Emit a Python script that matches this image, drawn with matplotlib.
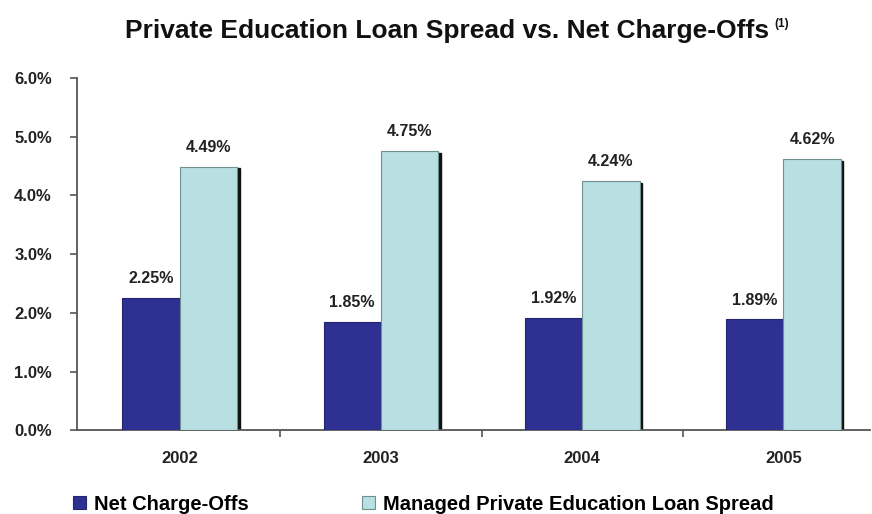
import numpy as np
import matplotlib.pyplot as plt
from matplotlib.patches import Rectangle

plt.rcParams['font.family'] = ['Liberation Sans', 'DejaVu Sans']
plt.rcParams['font.weight'] = 'bold'

years = ['2002', '2003', '2004', '2005']
net_charge_offs = [2.25, 1.85, 1.92, 1.89]
loan_spread = [4.49, 4.75, 4.24, 4.62]

dark = '#2E3192'
light = '#B8E0E2'

fig = plt.figure(figsize=(8.72, 5.14), dpi=100)
ax = fig.add_axes([0.0883, 0.1625, 0.9094, 0.686])

x = np.arange(len(years))
w = 0.285

ax.bar(x - w / 2, net_charge_offs, w, color=dark, edgecolor='#22246e', linewidth=0.8,
       label='Net Charge-Offs', zorder=3)
# dark shadow strip along the right side of the spread bars
for xi, v in zip(x, loan_spread):
    ax.add_patch(Rectangle((xi + w - 0.004, 0), 0.017, v - 0.03, color='#111111', zorder=2))
ax.bar(x + w / 2, loan_spread, w, color=light, edgecolor='#6f8f90', linewidth=0.8,
       label='Managed Private Education Loan Spread', zorder=3)

for xi, v in zip(x, net_charge_offs):
    ax.text(xi - w / 2, v + 0.33, f'{v:.2f}%', ha='center', va='center', fontsize=11.5,
            fontweight='bold', color='#222222')
for xi, v in zip(x, loan_spread):
    ax.text(xi + w / 2, v + 0.33, f'{v:.2f}%', ha='center', va='center', fontsize=11.5,
            fontweight='bold', color='#222222')

ax.set_xlim(-0.51, 3.43)
ax.set_ylim(0, 6)
yt = np.arange(0, 6.01, 1.0)
ax.set_yticks(yt)
ax.set_yticklabels([f'{t:.1f}%' for t in yt], fontsize=12, fontweight='bold',
                   color='#222222')
ax.set_xticks(x)
ax.set_xticklabels(years, fontsize=12, fontweight='bold', color='#222222')
ax.tick_params(axis='x', length=0, pad=15)
ax.set_xticks([0.5, 1.5, 2.5], minor=True)
ax.tick_params(axis='x', which='minor', length=5, color='#555555', width=1.2)
ax.tick_params(axis='y', length=5, color='#555555', width=1.2, pad=13)

for s in ['top', 'right']:
    ax.spines[s].set_visible(False)
for s in ['left', 'bottom']:
    ax.spines[s].set_color('#555555')
    ax.spines[s].set_linewidth(1.3)

title = fig.text(125 / 872, 1 - 31 / 514,
                 'Private Education Loan Spread vs. Net Charge-Offs',
                 ha='left', va='center', fontsize=19, fontweight='bold', color='#111111')
fig.canvas.draw()
bb = title.get_window_extent().transformed(fig.transFigure.inverted())
fig.text(bb.x1 + 5 / 872, 1 - 24 / 514, '(1)', ha='left', va='center', fontsize=8.5,
         fontweight='bold', color='#111111')

handles, labels = ax.get_legend_handles_labels()
fig.legend(handles, labels, loc='center left', bbox_to_anchor=(73 / 872, 1 - 504 / 514),
           ncol=2, frameon=False, fontsize=14.5, borderpad=0, borderaxespad=0,
           handlelength=0.65, handleheight=0.65, handletextpad=0.4, columnspacing=5.6)

fig.savefig('out.png', dpi=100)
